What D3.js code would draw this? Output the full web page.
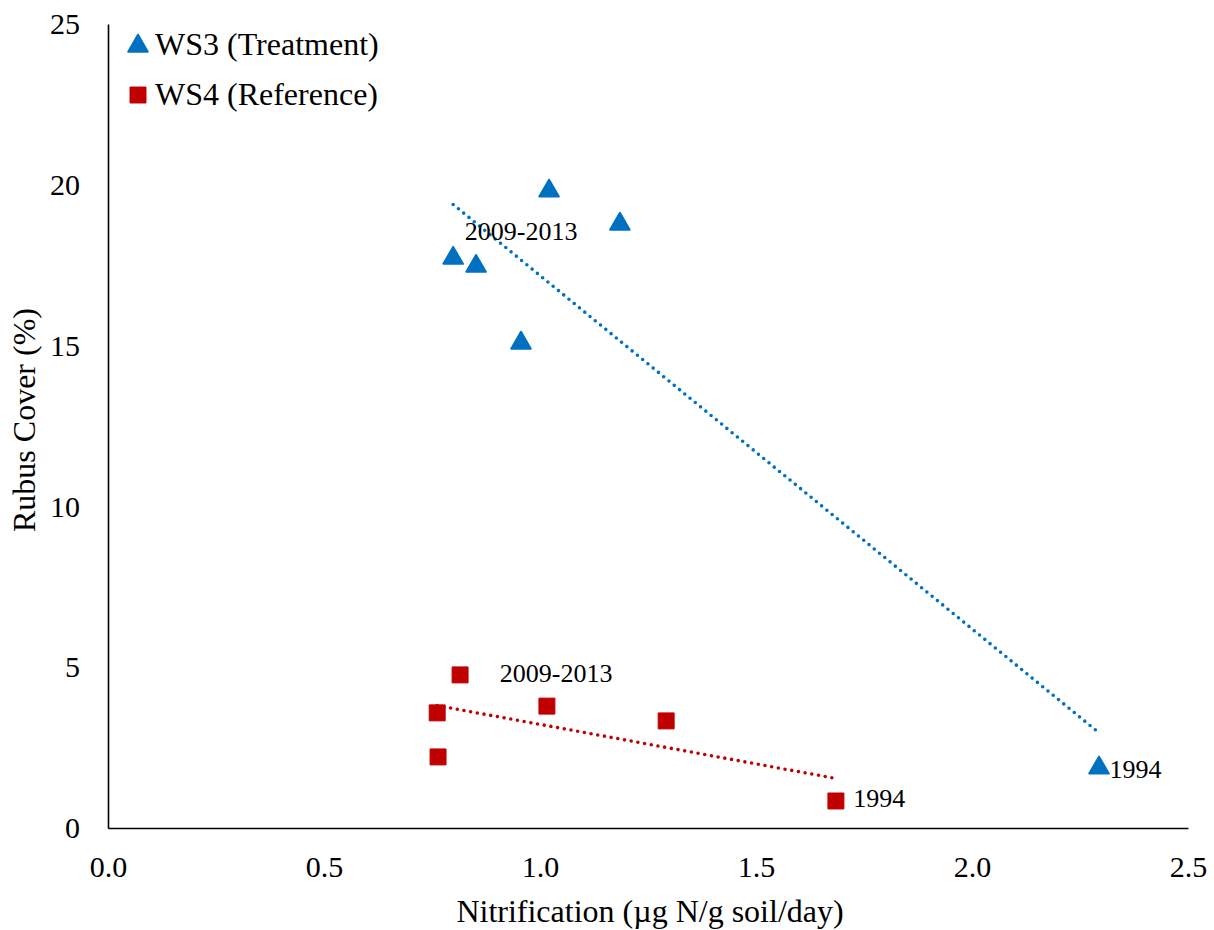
<!DOCTYPE html>
<html>
<head>
  <script type="text/javascript" src="https://cdn.jsdelivr.net/npm/d3@7"></script>
  <title>Rubus cover vs nitrification</title>
  <style>
    body { margin: 0; background: #fff; }
    text { font-family: "Liberation Serif", "Times New Roman", serif; fill: #000; }
  </style>
</head>
<body>

<svg id="chart" width="1214" height="930"></svg>

<script>
  // WS3 (treatment) points
  var ws3X = [1.021, 1.185, 0.799, 0.852, 0.956, 2.294];
  var ws3Y = [19.84, 18.81, 17.75, 17.50, 15.11, 1.90];

  // WS4 (reference) points
  var ws4X = [0.815, 0.762, 0.764, 1.016, 1.292, 1.685];
  var ws4Y = [4.76, 3.58, 2.21, 3.79, 3.33, 0.84];

  var xTicks = [0, 0.5, 1.0, 1.5, 2.0, 2.5];
  var yTicks = [0, 5, 10, 15, 20, 25];

  // point labels, in data units
  var labelText = ["2009-2013", "1994", "2009-2013", "1994"];
  var labelX = [0.826, 2.318, 0.907, 1.725];
  var labelY = [18.28, 1.55, 4.53, 0.65];

  var seriesNames = ["WS3 (Treatment)", "WS4 (Reference)"];
  var blue = "#0070C0", red = "#C00000";

  var svg = d3.select("#chart");

  var x = d3.scaleLinear().domain([0, 2.5]).range([108, 1188]);
  var y = d3.scaleLinear().domain([0, 25]).range([828, 24]);

  // axes: plain lines, no tick marks
  var xAxis = svg.append("g")
      .attr("transform", "translate(0," + y(0) + ")")
      .call(d3.axisBottom(x).tickValues(xTicks).tickFormat(d3.format(".1f")).tickSize(0).tickPadding(28));
  var yAxis = svg.append("g")
      .attr("transform", "translate(" + x(0) + ",0)")
      .call(d3.axisLeft(y).tickValues(yTicks).tickSize(0).tickPadding(28));

  [xAxis, yAxis].forEach(function(ax) {
    ax.attr("font-family", null);
    ax.select(".domain").attr("stroke", "#000").attr("stroke-width", 1.6);
    ax.selectAll("text")
        .attr("font-size", 30)
        .attr("fill", "#000");
  });

  svg.append("text")
      .attr("x", 650)
      .attr("y", 922)
      .attr("text-anchor", "middle")
      .attr("font-size", 32)
      .text("Nitrification (\u00b5g N/g soil/day)");

  svg.append("text")
      .attr("transform", "translate(35,420) rotate(-90)")
      .attr("text-anchor", "middle")
      .attr("font-size", 32)
      .text("Rubus Cover (%)");

  // least-squares trend line over the x range of each series
  function trend(xs, ys) {
    var mx = d3.mean(xs), my = d3.mean(ys);
    var sxy = d3.sum(xs, function(v, i) { return (v - mx) * (ys[i] - my); });
    var sxx = d3.sum(xs, function(v) { return (v - mx) * (v - mx); });
    var b = sxy / sxx, a = my - b * mx;
    var x0 = d3.min(xs), x1 = d3.max(xs);
    return [[x0, a + b * x0], [x1, a + b * x1]];
  }

  var line = d3.line().x(function(d) { return x(d[0]); }).y(function(d) { return y(d[1]); });

  [[ws3X, ws3Y, blue], [ws4X, ws4Y, red]].forEach(function(s) {
    svg.append("path")
        .attr("d", line(trend(s[0], s[1])))
        .attr("fill", "none")
        .attr("stroke", s[2])
        .attr("stroke-width", 3.6)
        .attr("stroke-linecap", "round")
        .attr("stroke-dasharray", "0,6.8");
  });

  var tri = d3.symbol().type(d3.symbolTriangle).size(165);
  var sq = d3.symbol().type(d3.symbolSquare).size(255);

  svg.selectAll(".ws3")
      .data(d3.range(ws3X.length))
    .enter().append("path")
      .attr("class", "ws3")
      .attr("d", tri)
      .attr("transform", function(i) { return "translate(" + x(ws3X[i]) + "," + (y(ws3Y[i]) + 1) + ")"; })
      .attr("fill", blue)
      .attr("stroke", blue)
      .attr("stroke-width", 2)
      .attr("stroke-linejoin", "round");

  svg.selectAll(".ws4")
      .data(d3.range(ws4X.length))
    .enter().append("path")
      .attr("class", "ws4")
      .attr("d", sq)
      .attr("transform", function(i) { return "translate(" + x(ws4X[i]) + "," + y(ws4Y[i]) + ")"; })
      .attr("fill", red)
      .attr("stroke", red)
      .attr("stroke-width", 1)
      .attr("stroke-linejoin", "round");

  svg.selectAll(".lbl")
      .data(labelText)
    .enter().append("text")
      .attr("class", "lbl")
      .attr("x", function(d, i) { return x(labelX[i]); })
      .attr("y", function(d, i) { return y(labelY[i]); })
      .attr("font-size", 26)
      .text(function(d) { return d; });

  // legend
  var legend = svg.append("g");
  legend.append("path")
      .attr("d", tri)
      .attr("transform", "translate(138,46)")
      .attr("fill", blue).attr("stroke", blue).attr("stroke-width", 2).attr("stroke-linejoin", "round");
  legend.append("path")
      .attr("d", sq)
      .attr("transform", "translate(138,95)")
      .attr("fill", red).attr("stroke", red).attr("stroke-width", 1).attr("stroke-linejoin", "round");
  legend.selectAll(".leg")
      .data(seriesNames)
    .enter().append("text")
      .attr("class", "leg")
      .attr("x", 155)
      .attr("y", function(d, i) { return 55 + i * 50; })
      .attr("font-size", 32)
      .text(function(d) { return d; });
</script>

</body>
</html>
